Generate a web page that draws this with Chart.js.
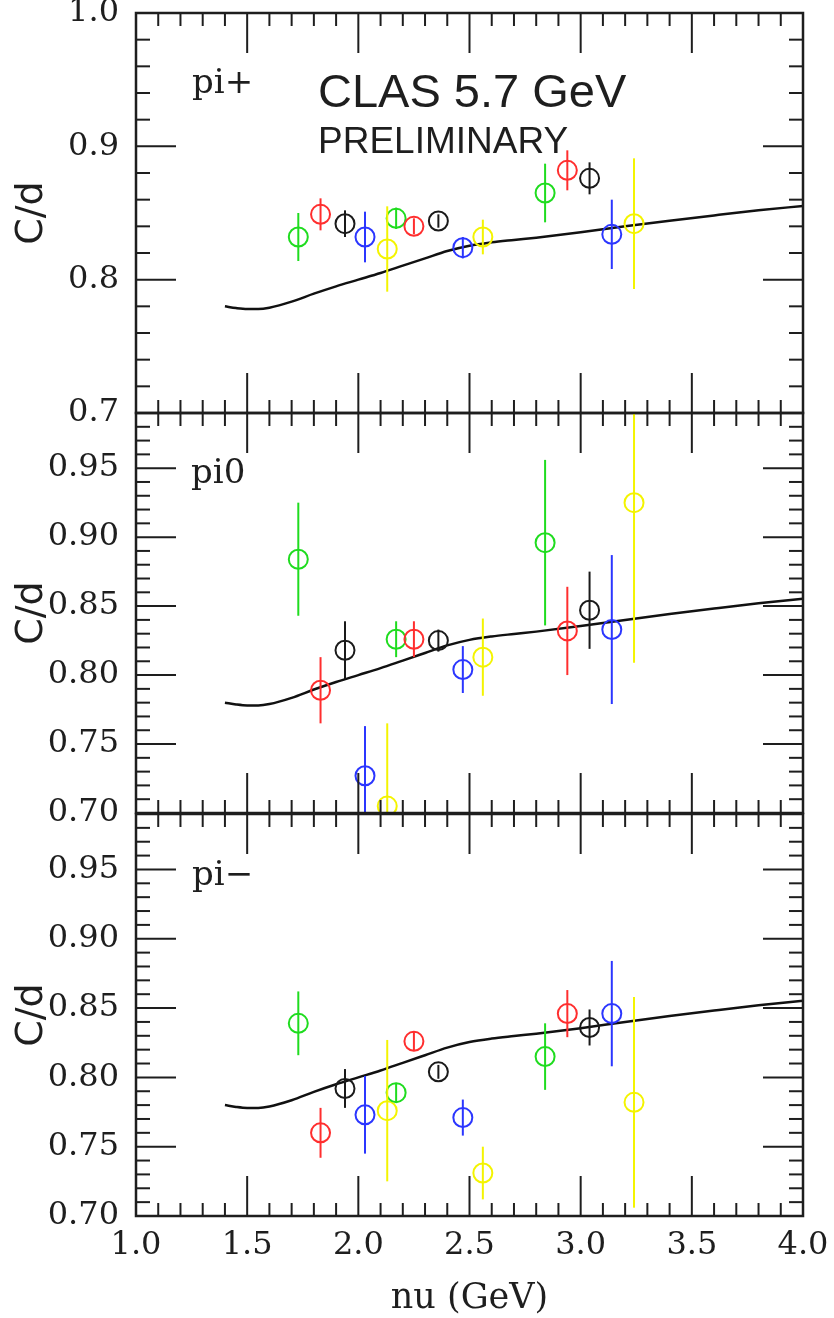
<!DOCTYPE html>
<html>
<head>
<meta charset="utf-8">
<title>CLAS 5.7 GeV C/d</title>
<script src="https://cdn.jsdelivr.net/npm/chart.js@4.4.1/dist/chart.umd.min.js"></script>
<style>
    html, body { margin: 0; padding: 0; background: #fff; }
    #page { position: relative; width: 834px; height: 1318px; overflow: hidden; background: #fff; }
    #page canvas { position: absolute; left: 0; }
</style>
</head>
<body>
<div id="page">
    <canvas id="panelPiPlus" width="850" height="480" style="top:-27px"></canvas>
    <canvas id="panelPiZero" width="850" height="480" style="top:373px"></canvas>
    <canvas id="panelPiMinus" width="850" height="542" style="top:774px"></canvas>
</div>
<script>
// nu (GeV) of the measured points, the same in all three panels
const nuPoints = [1.73, 1.83, 1.94, 2.03, 2.13, 2.17, 2.25, 2.36, 2.47, 2.56, 2.84, 2.94, 3.04, 3.14, 3.24];

// C/d ratio and error per point
const piPlusRatio = [0.832, 0.849, 0.842, 0.832, 0.823, 0.846, 0.840, 0.844, 0.824, 0.832, 0.865, 0.882, 0.876, 0.834, 0.842];
const piPlusError = [0.018, 0.012, 0.010, 0.019, 0.032, 0.008, 0.006, 0.005, 0.008, 0.013, 0.022, 0.015, 0.012, 0.026, 0.049];
const piZeroRatio = [0.884, 0.789, 0.818, 0.727, 0.705, 0.826, 0.826, 0.825, 0.804, 0.813, 0.896, 0.832, 0.847, 0.833, 0.925];
const piZeroError = [0.041, 0.024, 0.021, 0.036, 0.060, 0.013, 0.013, 0.008, 0.017, 0.028, 0.060, 0.032, 0.028, 0.054, 0.116];
const piMinusRatio = [0.839, 0.760, 0.792, 0.773, 0.776, 0.789, 0.826, 0.804, 0.771, 0.731, 0.815, 0.846, 0.836, 0.846, 0.782];
const piMinusError = [0.023, 0.018, 0.014, 0.028, 0.051, 0.007, 0.007, 0.005, 0.013, 0.019, 0.024, 0.017, 0.013, 0.038, 0.076];

// model curve (same in each panel)
const curveNu = [1.40, 1.45, 1.50, 1.55, 1.60, 1.70, 1.80, 1.90, 2.00, 2.10, 2.20, 2.30, 2.40, 2.50, 2.60, 2.70, 2.80, 3.00, 3.20, 3.40, 3.60, 3.80, 4.00];
const curveRatio = [0.7800, 0.7787, 0.7780, 0.7780, 0.7790, 0.7835, 0.7895, 0.7950, 0.8000, 0.8050, 0.8105, 0.8160, 0.8215, 0.8255, 0.8280, 0.8298, 0.8315, 0.8355, 0.8400, 0.8442, 0.8482, 0.8520, 0.8553];

// tick labels
const xTickValues = [1.0, 1.5, 2.0, 2.5, 3.0, 3.5, 4.0];
const yTicksPiPlus = [0.7, 0.8, 0.9, 1.0];
const yTicksPion = [0.70, 0.75, 0.80, 0.85, 0.90, 0.95];

const cycleColors = ['#1fdc1f', '#ff2e2e', '#1a1a1a', '#2b36ff', '#f4f400'];
const pointColors = nuPoints.map((_, i) => cycleColors[i % cycleColors.length]);
const ink = '#1e1e1e';

const steps = (lo, hi, st) => {
    const out = [];
    for (let i = Math.ceil(lo / st - 1e-6); i * st <= hi + 1e-9; i++) out.push(i * st);
    return out;
};
const isMultiple = (v, st) => Math.abs(v / st - Math.round(v / st)) < 1e-6;

// inward ticks on all four sides plus the frame
const frameTicks = {
    id: 'frameTicks',
    afterDraw(chart, args, o) {
        const {ctx, chartArea: a, scales: {x, y}} = chart;
        ctx.save();
        ctx.strokeStyle = ink;
        ctx.lineWidth = 2;
        const seg = (x1, y1, x2, y2) => { ctx.beginPath(); ctx.moveTo(x1, y1); ctx.lineTo(x2, y2); ctx.stroke(); };
        steps(x.min, x.max, o.xMinor).forEach(v => {
            const len = isMultiple(v, o.xMajor) ? 40 : 13;
            const px = x.getPixelForValue(v);
            seg(px, a.top, px, a.top + len);
            seg(px, a.bottom, px, a.bottom - len);
        });
        steps(y.min, y.max, o.yMinor).forEach(v => {
            const len = isMultiple(v, o.yMajor) ? 40 : 14;
            const py = y.getPixelForValue(v);
            seg(a.left, py, a.left + len, py);
            seg(a.right, py, a.right - len, py);
        });
        ctx.lineWidth = 2.5;
        ctx.strokeRect(a.left, a.top, a.right - a.left, a.bottom - a.top);
        ctx.restore();
    }
};

const errorBars = {
    id: 'errorBars',
    afterDatasetsDraw(chart) {
        const {ctx, chartArea: a, scales: {x, y}} = chart;
        ctx.save();
        ctx.beginPath();
        ctx.rect(a.left, a.top, a.right - a.left, a.bottom - a.top);
        ctx.clip();
        ctx.lineWidth = 2;
        chart.data.datasets.forEach(ds => {
            if (!ds.errors) return;
            ds.data.forEach((p, i) => {
                const px = x.getPixelForValue(p.x);
                ctx.strokeStyle = ds.pointBorderColor[i];
                ctx.beginPath();
                ctx.moveTo(px, y.getPixelForValue(p.y - ds.errors[i]));
                ctx.lineTo(px, y.getPixelForValue(p.y + ds.errors[i]));
                ctx.stroke();
            });
        });
        ctx.restore();
    }
};

const panelText = {
    id: 'panelText',
    afterDraw(chart, args, o) {
        const {ctx, chartArea: a} = chart;
        ctx.save();
        ctx.fillStyle = ink;
        ctx.textBaseline = 'alphabetic';
        (o.items || []).forEach(t => {
            ctx.font = t.font;
            ctx.fillText(t.text, a.left + t.dx, a.top + t.dy);
        });
        ctx.restore();
    }
};

const panels = [
    {
        id: 'panelPiPlus', ratio: piPlusRatio, error: piPlusError,
        yMin: 0.7, yMax: 1.0, yTicks: yTicksPiPlus, decimals: 1, yMinor: 0.02, yMajor: 0.1, last: false,
        texts: [
            {text: 'pi+', dx: 56, dy: 80, font: '34px "DejaVu Serif"'},
            {text: 'CLAS 5.7 GeV', dx: 182, dy: 94, font: '47px "Liberation Sans"'},
            {text: 'PRELIMINARY', dx: 182, dy: 140, font: '37px "Liberation Sans"'}
        ]
    },
    {
        id: 'panelPiZero', ratio: piZeroRatio, error: piZeroError,
        yMin: 0.70, yMax: 0.99, yTicks: yTicksPion, decimals: 2, yMinor: 0.01, yMajor: 0.05, last: false,
        texts: [{text: 'pi0', dx: 55, dy: 70, font: '34px "DejaVu Serif"'}]
    },
    {
        id: 'panelPiMinus', ratio: piMinusRatio, error: piMinusError,
        yMin: 0.70, yMax: 0.99, yTicks: yTicksPion, decimals: 2, yMinor: 0.01, yMajor: 0.05, last: true,
        texts: [{text: 'pi\u2212', dx: 56, dy: 71, font: '34px "DejaVu Serif"'}]
    }
];

panels.forEach(p => {
    new Chart(document.getElementById(p.id), {
        type: 'scatter',
        data: {
            datasets: [
                {
                    data: nuPoints.map((nu, i) => ({x: nu, y: p.ratio[i]})),
                    errors: p.error,
                    pointBorderColor: pointColors,
                    pointBackgroundColor: 'rgba(0,0,0,0)',
                    pointRadius: 9.5,
                    pointBorderWidth: 2,
                    showLine: false,
                    clip: 0
                },
                {
                    data: curveNu.map((nu, i) => ({x: nu, y: curveRatio[i]})),
                    showLine: true,
                    borderColor: '#111',
                    borderWidth: 2.5,
                    pointRadius: 0,
                    cubicInterpolationMode: 'monotone',
                    clip: 0
                }
            ]
        },
        options: {
            responsive: false,
            animation: false,
            events: [],
            layout: {autoPadding: false, padding: {left: 0, right: 47, top: 40, bottom: p.last ? 0 : 40}},
            plugins: {
                legend: {display: false},
                tooltip: {enabled: false},
                frameTicks: {xMinor: 0.1, xMajor: 0.5, yMinor: p.yMinor, yMajor: p.yMajor},
                panelText: {items: p.texts}
            },
            scales: {
                x: {
                    type: 'linear', min: 1.0, max: 4.0,
                    afterBuildTicks: s => { s.ticks = xTickValues.map(v => ({value: v})); },
                    afterFit: s => { s.height = p.last ? 100 : 0; },
                    ticks: {
                        display: p.last, autoSkip: false, maxRotation: 0,
                        callback: v => v.toFixed(1),
                        font: {family: 'DejaVu Serif', size: 32}, color: ink, padding: 10
                    },
                    grid: {display: false, drawTicks: false},
                    border: {display: false},
                    title: {
                        display: p.last, text: 'nu (GeV)', color: ink, padding: 0,
                        font: {family: 'DejaVu Serif', size: 35, lineHeight: 1}
                    }
                },
                y: {
                    type: 'linear', min: p.yMin, max: p.yMax,
                    afterBuildTicks: s => { s.ticks = p.yTicks.map(v => ({value: v})); },
                    afterFit: s => { s.width = 136; },
                    ticks: {
                        autoSkip: false,
                        callback: v => v.toFixed(p.decimals),
                        font: {family: 'DejaVu Serif', size: 32}, color: ink, padding: 17
                    },
                    grid: {display: false, drawTicks: false},
                    border: {display: false},
                    title: {
                        display: true, text: 'C/d', color: ink,
                        padding: {top: 9, bottom: 0},
                        font: {family: 'DejaVu Sans', size: 38}
                    }
                }
            }
        },
        plugins: [errorBars, frameTicks, panelText]
    });
});
</script>
</body>
</html>
